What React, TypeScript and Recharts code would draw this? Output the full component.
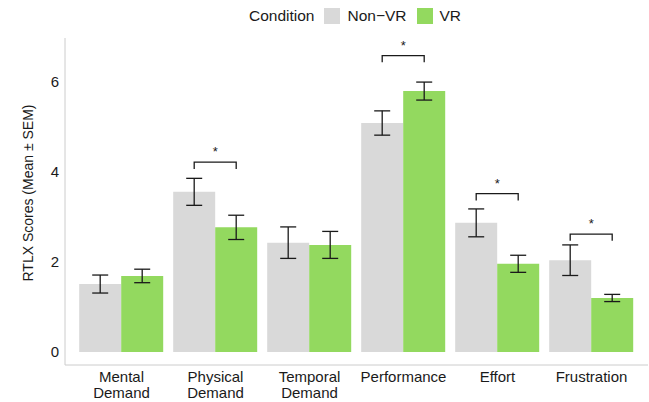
import { Bar, BarChart, ErrorBar, XAxis, YAxis } from "recharts";

const categories = ["Mental Demand", "Physical Demand", "Temporal Demand", "Performance", "Effort", "Frustration"];
const nonVr = [1.51, 3.56, 2.43, 5.09, 2.87, 2.04];
const nonVrSem = [0.2, 0.3, 0.35, 0.27, 0.31, 0.34];
const vr = [1.69, 2.77, 2.38, 5.8, 1.96, 1.2];
const vrSem = [0.15, 0.27, 0.3, 0.2, 0.19, 0.08];

// significance brackets: category index -> bracket height (score units)
const sigIndex = [1, 3, 4, 5];
const sigY = [4.22, 6.59, 3.52, 2.62];
const yTicks = [0, 2, 4, 6];

const GRAY = "#d9d9d9";
const GREEN = "#93d95f";
const INK = "#1a1a1a";
const FONT = '"Liberation Sans", Arial, Helvetica, sans-serif';

const data = categories.map((name, i) => ({
  name,
  nonVr: nonVr[i],
  nonVrSem: nonVrSem[i],
  vr: vr[i],
  vrSem: vrSem[i],
}));

const DROP = 0.15;

function XTick({ x, y, payload }: any) {
  const lines = String(payload.value).split(" ");
  return (
    <text x={x} y={y} textAnchor="middle" fontSize={15} fontFamily={FONT} fill={INK}>
      {lines.map((l, i) => (
        <tspan key={i} x={x} dy={i === 0 ? 17 : 16}>
          {l}
        </tspan>
      ))}
    </text>
  );
}

function YTick({ x, y, payload }: any) {
  return (
    <text x={x} y={y} dy={5} textAnchor="end" fontSize={15} fontFamily={FONT} fill={INK}>
      {payload.value}
    </text>
  );
}

// Drawn as the label of the VR bar: bar geometry gives the y scale and both bar centres.
function SigBracket(props: any) {
  const { x, y, width, height, value, index } = props;
  const k = sigIndex.indexOf(index);
  if (k < 0 || !value) return null;
  const zero = y + height;
  const py = (v: number) => zero - (v * height) / value;
  const x1 = x - width / 2;
  const x2 = x + width / 2;
  const top = py(sigY[k]);
  const foot = py(sigY[k] - DROP);
  return (
    <g>
      <path d={`M${x1},${foot}V${top}H${x2}V${foot}`} fill="none" stroke={INK} strokeWidth={1.3} />
      <text x={(x1 + x2) / 2} y={top - 6} textAnchor="middle" fontSize={13} fontFamily={FONT} fill={INK}>
        *
      </text>
    </g>
  );
}

function Legend() {
  const sw = { width: 16, height: 16, display: "inline-block" } as const;
  return (
    <div
      style={{
        position: "absolute",
        left: 249,
        top: 6,
        display: "flex",
        alignItems: "center",
        fontFamily: FONT,
        fontSize: 15.5,
        color: INK,
        lineHeight: "20px",
      }}
    >
      <span>Condition</span>
      <span style={{ ...sw, background: GRAY, marginLeft: 9 }} />
      <span style={{ marginLeft: 8 }}>Non−VR</span>
      <span style={{ ...sw, background: GREEN, marginLeft: 10 }} />
      <span style={{ marginLeft: 7 }}>VR</span>
    </div>
  );
}

export default function App() {
  return (
    <div style={{ position: "absolute", left: 0, top: 0, width: 649, height: 402, background: "#fff" }}>
      <Legend />
      <BarChart
        width={649}
        height={402}
        data={data}
        margin={{ top: 38, right: 1, bottom: 0, left: 0 }}
        barCategoryGap="5%"
        barGap={0}
      >
        <XAxis
          dataKey="name"
          height={37}
          padding={{ left: 9.5, right: 9.5 }}
          tickLine={false}
          tickSize={0}
          tickMargin={0}
          axisLine={{ stroke: "#cccccc" }}
          tick={<XTick />}
          interval={0}
        />
        <YAxis
          width={65}
          domain={[-0.29, 6.98]}
          allowDataOverflow
          ticks={yTicks}
          tickLine={false}
          tickSize={0}
          tickMargin={6}
          axisLine={{ stroke: "#cccccc" }}
          tick={<YTick />}
          label={{
            content: () => (
              <text
                x={28}
                y={193}
                transform="rotate(-90 28 193)"
                textAnchor="middle"
                dominantBaseline="central"
                fontSize={14}
                fontFamily={FONT}
                fill={INK}
              >
                RTLX Scores (Mean ± SEM)
              </text>
            ),
          }}
        />
        <Bar dataKey="nonVr" fill={GRAY} isAnimationActive={false}>
          <ErrorBar dataKey="nonVrSem" width={8} stroke={INK} strokeWidth={1.3} isAnimationActive={false} />
        </Bar>
        <Bar dataKey="vr" fill={GREEN} isAnimationActive={false} label={<SigBracket />}>
          <ErrorBar dataKey="vrSem" width={8} stroke={INK} strokeWidth={1.3} isAnimationActive={false} />
        </Bar>
      </BarChart>
    </div>
  );
}
